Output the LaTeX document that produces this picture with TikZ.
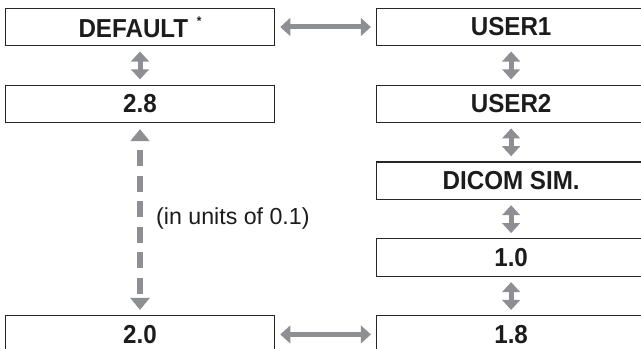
\documentclass[tikz,border=0pt]{standalone}
\usepackage{fontspec}
\setmainfont{Liberation Sans}
\newfontfamily\boxfont{Liberation Sans}[FakeStretch=0.93]
\definecolor{arrowgray}{RGB}{142,143,147}
\definecolor{textdark}{RGB}{28,28,28}
\usetikzlibrary{arrows.meta,positioning}

\begin{document}
\begin{tikzpicture}[node distance=0.956cm and 2.525cm,
  sbox/.style={draw=black!85,line width=0.8pt,minimum width=6.725cm,
              minimum height=0.9375cm,inner sep=0pt,text=textdark,
              font=\boxfont\bfseries\fontsize{18.5}{20}\selectfont},
  garrow/.style={{Triangle[width=0.44cm,length=0.25cm]}-{Triangle[width=0.44cm,length=0.25cm]},
              line width=0.125cm,arrowgray,shorten <=0.13cm,shorten >=0.13cm},
  darrow/.style={{Triangle[width=0.47cm,length=0.3cm]}-{Triangle[width=0.47cm,length=0.3cm]},
              line width=0.17cm,arrowgray,dash pattern=on 0.4cm off 0.24cm,dash phase=0.4cm,
              shorten <=0.15cm,shorten >=0.13cm}]
  \useasboundingbox (0,0) rectangle (16.025,-8.725);
  \node[sbox] (default) at (3.5,-0.675) {DEFAULT\,\,\raisebox{0.45em}{\fontsize{9}{9}\selectfont*}};
  \node[sbox, right=of default] (user1) {USER1};
  \node[sbox, below=of default] (two8) {2.8};
  \node[sbox, below=of user1] (user2) {USER2};
  \node[sbox, below=of user2] (dicom) {DICOM SIM.};
  \node[sbox, below=of dicom] (one0) {1.0};
  \node[sbox, below=of one0] (one8) {1.8};
  \node[sbox, left=of one8] (two0) {2.0};
  \node[anchor=west,text=textdark,font=\fontsize{16.5}{18}\selectfont] (units) at (3.78,-5.45) {(in units of 0.1)};
  \draw[garrow] (default) -- (user1);
  \draw[garrow] (default) -- (two8);
  \draw[garrow] (user1) -- (user2);
  \draw[garrow] (user2) -- (dicom);
  \draw[garrow] (dicom) -- (one0);
  \draw[garrow] (one0) -- (one8);
  \draw[garrow] (two0) -- (one8);
  \draw[darrow] (two8) -- (two0);
\end{tikzpicture}
\end{document}
